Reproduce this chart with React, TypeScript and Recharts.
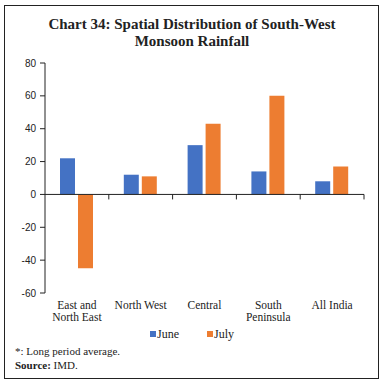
import { Bar, BarChart, ReferenceLine, XAxis, YAxis } from "recharts";

const CATEGORIES = ["East and\nNorth East", "North West", "Central", "South\nPeninsula", "All India"];
const JUNE = [22, 12, 30, 14, 8];
const JULY = [-45, 11, 43, 60, 17];
const Y_TICKS = [-60, -40, -20, 0, 20, 40, 60, 80];

const BLUE = "#4472C4";
const ORANGE = "#ED7D31";
const SERIF = "'Liberation Serif', 'DejaVu Serif', serif";
const SANS = "'Liberation Sans', Arial, sans-serif";

const data = CATEGORIES.map((region, i) => ({
  region,
  june: JUNE[i],
  july: JULY[i],
}));

const CategoryTick = ({ x, y, payload }: any) => {
  const lines = String(payload.value).split("\n");
  return (
    <text x={x} y={y} textAnchor="middle" fontFamily={SERIF} fontSize={11.5} fill="#222">
      {lines.map((line, i) => (
        <tspan key={i} x={x} dy={i === 0 ? 8 : 12}>
          {line}
        </tspan>
      ))}
    </text>
  );
};

// zero line with downward tick marks at each category boundary
const ZeroAxis = (props: any) => {
  const { x1, y1, x2 } = props;
  const step = (x2 - x1) / CATEGORIES.length;
  return (
    <g>
      <line x1={x1} y1={y1} x2={x2} y2={y1} stroke="#222" strokeWidth={1} />
      {CATEGORIES.map((_, i) => (
        <line
          key={i}
          x1={x1 + step * (i + 1)}
          x2={x1 + step * (i + 1)}
          y1={y1}
          y2={y1 + 5}
          stroke="#222"
          strokeWidth={1}
        />
      ))}
    </g>
  );
};

const LegendItem = ({ color, label }: { color: string; label: string }) => (
  <span style={{ display: "inline-flex", alignItems: "center", marginRight: 28 }}>
    <span style={{ width: 6, height: 6, background: color, marginRight: 1, display: "inline-block" }} />
    {label}
  </span>
);

export default function App() {
  return (
    <div
      style={{
        position: "absolute",
        left: 0,
        top: 0,
        width: 384,
        height: 384,
        background: "#fff",
        fontFamily: SERIF,
        color: "#222",
      }}
    >
      <div
        style={{
          position: "absolute",
          left: 4,
          top: 5,
          width: 373,
          height: 372,
          border: "1.5px solid #222",
        }}
      />
      <div
        style={{
          position: "absolute",
          left: 0,
          top: 16,
          width: 384,
          textAlign: "center",
          fontWeight: "bold",
          fontSize: 15,
          lineHeight: "17px",
        }}
      >
        Chart 34: Spatial Distribution of South-West
        <br />
        Monsoon Rainfall
      </div>
      <div style={{ position: "absolute", left: 0, top: 0 }}>
        <BarChart
          width={384}
          height={384}
          data={data}
          margin={{ top: 63, right: 20, bottom: 61, left: 0 }}
          barSize={15}
          barGap={3}
        >
          <YAxis
            type="number"
            domain={[-60, 80]}
            ticks={Y_TICKS}
            width={45}
            interval={0}
            tickSize={5}
            tickMargin={4}
            stroke="#222"
            tick={{ fill: "#222", fontSize: 10, fontFamily: SANS }}
          />
          <XAxis
            dataKey="region"
            height={30}
            axisLine={false}
            tickLine={false}
            interval={0}
            tick={<CategoryTick />}
          />
          <Bar dataKey="june" name="June" fill={BLUE} isAnimationActive={false} />
          <Bar dataKey="july" name="July" fill={ORANGE} isAnimationActive={false} />
          <ReferenceLine y={0} shape={(p: any) => <ZeroAxis {...p} />} />
        </BarChart>
      </div>
      <div
        style={{
          position: "absolute",
          left: 0,
          top: 326,
          width: 384,
          textAlign: "center",
          fontSize: 12,
          paddingLeft: 28,
          boxSizing: "border-box",
        }}
      >
        <LegendItem color={BLUE} label="June" />
        <LegendItem color={ORANGE} label="July" />
      </div>
      <div style={{ position: "absolute", left: 15, top: 344, fontSize: 11, lineHeight: "14px" }}>
        *: Long period average.
        <br />
        <b>Source:</b> IMD.
      </div>
    </div>
  );
}
